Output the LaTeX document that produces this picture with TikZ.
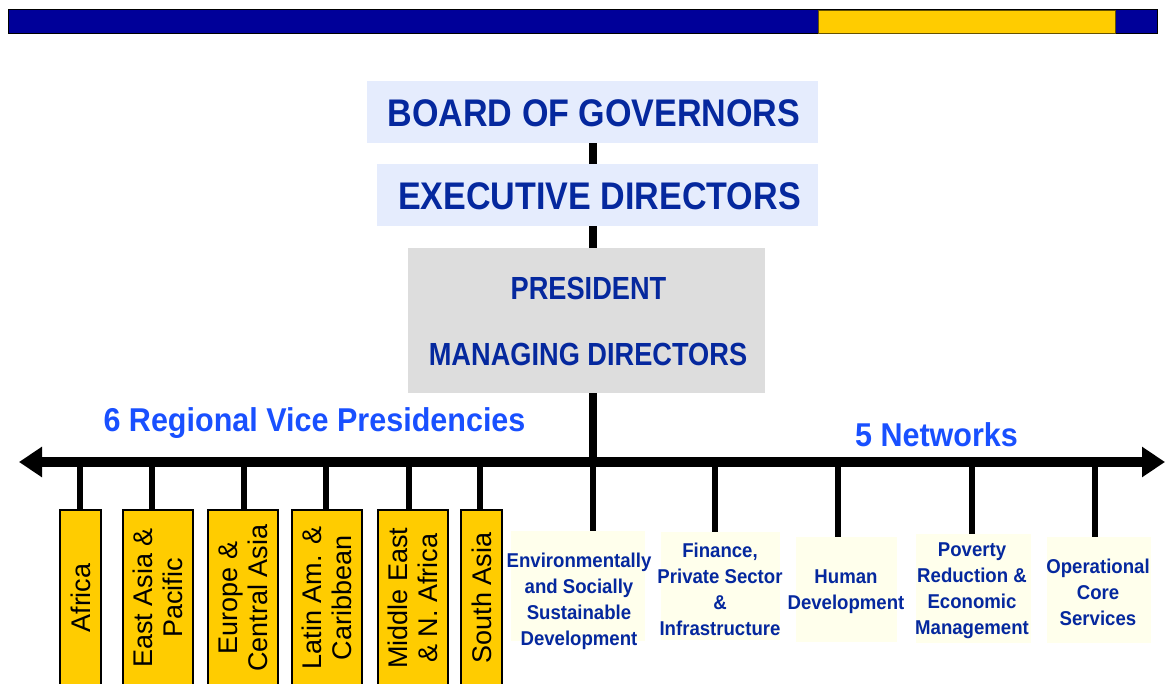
\documentclass[tikz,border=0pt]{standalone}
\usepackage{fontspec}
\setmainfont{Liberation Sans}
\newfontfamily\fTop[FakeStretch=0.885]{Liberation Sans}
\newfontfamily\fPres[FakeStretch=0.85]{Liberation Sans}
\newfontfamily\fTitle[FakeStretch=0.925]{Liberation Sans}
\newfontfamily\fNet[FakeStretch=0.93]{Liberation Sans}
\usetikzlibrary{arrows.meta}
\definecolor{barblue}{RGB}{0,0,153}
\definecolor{baryellow}{RGB}{255,204,0}
\definecolor{headblue}{RGB}{5,40,158}
\definecolor{titleblue}{RGB}{25,80,255}
\definecolor{lightblue}{RGB}{229,236,253}
\definecolor{presgray}{RGB}{221,221,221}
\definecolor{ivory}{RGB}{255,255,236}
\begin{document}
\begin{tikzpicture}[x=1pt,y=-1pt,
  topbox/.style={fill=lightblue, inner sep=0pt},
  presbox/.style={fill=presgray, inner sep=0pt},
  toptxt/.style={text=headblue, anchor=base, inner sep=0pt, font=\fTop\bfseries\fontsize{38.5}{40}\selectfont},
  prestxt/.style={text=headblue, anchor=base, inner sep=0pt, font=\fPres\bfseries\fontsize{32}{34}\selectfont},
  titletxt/.style={text=titleblue, anchor=base, inner sep=0pt, font=\fTitle\bfseries\fontsize{33}{35}\selectfont},
  regbox/.style={draw=black, line width=1.5pt, fill=baryellow, rotate=90, inner sep=0pt, minimum width=176pt, align=center, font=\fontsize{27}{30}\selectfont},
  netbox/.style={fill=ivory, inner sep=0pt},
  nettxt/.style={text=headblue, align=center, inner sep=0pt, font=\fNet\bfseries\fontsize{20}{26}\selectfont},
  spine/.style={line width=7.5pt, draw=black},
  drop/.style={line width=5.5pt, draw=black},
  axis/.style={line width=10pt, draw=black, {Triangle[length=23pt,width=29pt]}-{Triangle[length=23pt,width=29pt]}}
]
\useasboundingbox (0,0) rectangle (1165,684);
\clip (0,0) rectangle (1165,684);

% top bar
\filldraw[fill=barblue, draw=black, line width=1pt] (8,10) rectangle (1157,34);
\filldraw[fill=baryellow, draw=black!60!baryellow, line width=1pt] (818,10.5) rectangle (1115,33.5);

% governance boxes
\node[topbox, minimum width=451pt, minimum height=62pt] (bog) at (592.5,112) {};
\node[toptxt] (bogT) at (594,126.7) {BOARD OF GOVERNORS};
\node[topbox, minimum width=441pt, minimum height=62pt] (ed) at (597.5,195) {};
\node[toptxt] (edT) at (599.5,209.3) {EXECUTIVE DIRECTORS};
\node[presbox, minimum width=357pt, minimum height=145pt] (pres) at (586.5,320.5) {};
\node[prestxt] (presT) at (588.5,299.3) {PRESIDENT};
\node[prestxt] (mdT) at (588,366) {MANAGING DIRECTORS};

% titles
\node[titletxt] (rvp) at (314.5,431.7) {6 Regional Vice Presidencies};
\node[titletxt] (netw) at (936.5,446.7) {5 Networks};

% regional boxes
\node[regbox, minimum height=41pt] (afr) at (80.5,598) {Africa};
\node[regbox, minimum height=70pt] (eap) at (158,598) {East Asia \&\\Pacific};
\node[regbox, minimum height=70pt] (eca) at (243,598) {Europe \&\\Central Asia};
\node[regbox, minimum height=70pt] (lac) at (327,598) {Latin Am. \&\\Caribbean};
\node[regbox, minimum height=70pt] (mna) at (413,598) {Middle East\\\& N. Africa};
\node[regbox, minimum height=41pt] (sas) at (481.5,598) {South Asia};

% network boxes
\node[netbox, minimum width=134pt, minimum height=110pt] (env) at (578,586) {};
\node[netbox, minimum width=119pt, minimum height=108pt] (fin) at (720.5,586) {};
\node[netbox, minimum width=101pt, minimum height=105pt] (hum) at (846.5,589.5) {};
\node[netbox, minimum width=115pt, minimum height=109pt] (pov) at (973.5,588.5) {};
\node[netbox, minimum width=104pt, minimum height=106pt] (ops) at (1099,590) {};
\node[nettxt] (envT) at (579,601) {Environmentally\\and Socially\\Sustainable\\Development};
\node[nettxt] (finT) at (720,589) {Finance,\\Private Sector\\\&\\Infrastructure};
\node[nettxt] (humT) at (846,592) {Human\\Development};
\node[nettxt] (povT) at (972,591) {Poverty\\Reduction \&\\Economic\\Management};
\node[nettxt] (opsT) at (1098,592) {Operational\\Core\\Services};

% axis
\coordinate (L) at (19,462);
\coordinate (R) at (1165,462);
\coordinate (sp) at (593,462);
\draw[axis] (L) -- (R);

% spine
\draw[spine] (bog.south -| sp) -- (ed.north -| sp);
\draw[spine] (ed.south -| sp) -- (pres.north -| sp);
\draw[spine] (pres.south -| sp) -- (sp);
\draw[drop, line width=6.5pt] (sp) -- (env.north -| sp);

% regional drops
\coordinate (cA) at (80,462);
\coordinate (cB) at (152,462);
\coordinate (cC) at (244,462);
\coordinate (cD) at (326,462);
\coordinate (cE) at (409,462);
\coordinate (cF) at (480,462);
\draw[drop] (cA) -- (cA |- afr.east);
\draw[drop] (cB) -- (cB |- eap.east);
\draw[drop] (cC) -- (cC |- eca.east);
\draw[drop] (cD) -- (cD |- lac.east);
\draw[drop] (cE) -- (cE |- mna.east);
\draw[drop] (cF) -- (cF |- sas.east);

% network drops
\coordinate (nB) at (715,462);
\coordinate (nC) at (838,462);
\coordinate (nD) at (972,462);
\coordinate (nE) at (1095,462);
\draw[drop] (nB) -- (nB |- fin.north);
\draw[drop] (nC) -- (nC |- hum.north);
\draw[drop] (nD) -- (nD |- pov.north);
\draw[drop] (nE) -- (nE |- ops.north);
\end{tikzpicture}
\end{document}
